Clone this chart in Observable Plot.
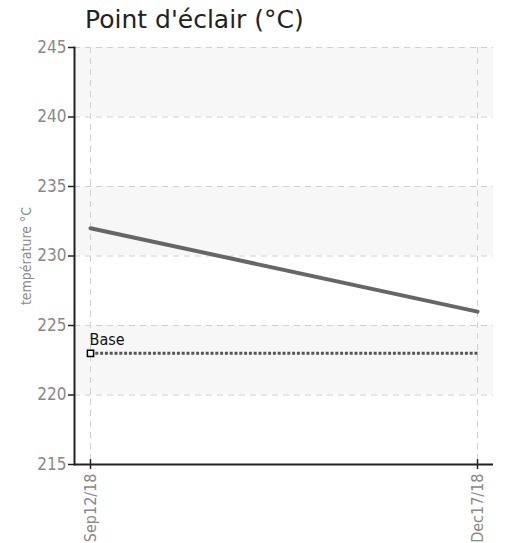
<!DOCTYPE html>
<html><head><meta charset="utf-8">
<script src="https://cdn.jsdelivr.net/npm/d3@7"></script>
<script src="https://cdn.jsdelivr.net/npm/@observablehq/plot@0.6"></script>
<style>
body{margin:0;background:#fff;}
#title{height:36px;font-family:"DejaVu Sans",sans-serif;font-size:25px;color:#222;padding-left:85px;padding-top:5px;line-height:29px;box-sizing:border-box;white-space:nowrap;}
</style></head><body>
<div id="title">Point d'éclair (°C)</div>
<div id="chart"></div>
<script>
const dates = ["2018-09-12", "2018-12-17"];
const values = [232, 226];
const baseValue = 223;
const baseLabel = "Base";
const yTicks = [215, 220, 225, 230, 235, 240, 245];
const bands = [[240, 245], [230, 235], [220, 225]];
const yLabel = "température °C";

const parse = d3.utcParse("%Y-%m-%d");
const series = dates.map((d, i) => ({date: parse(d), value: values[i]}));
const base = dates.map(d => ({date: parse(d), value: baseValue}));
const bandData = bands.map(([a, b]) => ({y1: a, y2: b}));
const fmt = d3.utcFormat("%b%d/%y");
const narrow = "'Liberation Sans Narrow','DejaVu Sans Condensed','Roboto Condensed',sans-serif";

const chart = Plot.plot({
  width: 509, height: 507,
  marginTop: 11, marginBottom: 79, marginLeft: 74, marginRight: 16,
  style: {fontFamily: narrow, background: "#fff"},
  x: {type: "utc", domain: [series[0].date, series[1].date], insetLeft: 16, insetRight: 16},
  y: {domain: [215, 245]},
  marks: [
    Plot.rect(bandData, {y1: "y1", y2: "y2", fill: "#f7f7f7"}),
    Plot.gridY(yTicks.filter(t => t > 215), {stroke: "#d0d0d0", strokeOpacity: 1, strokeDasharray: "6,5", strokeWidth: 1}),
    Plot.gridX(series.map(d => d.date), {stroke: "#d0d0d0", strokeOpacity: 1, strokeDasharray: "6,5", strokeWidth: 1}),
    Plot.axisY(yTicks, {tickSize: 6, tickPadding: 2, fontSize: 17, fill: "#888", stroke: "#222", strokeWidth: 1.5, label: null}),
    Plot.axisX(series.map(d => d.date), {tickSize: 5, tickRotate: -90, tickFormat: fmt, fontSize: 16, fill: "#888", stroke: "#222", strokeWidth: 1.5, label: null, tickPadding: 4}),
    Plot.ruleX(series, {x: "date", y1: 215, y2: 215.35, stroke: "#222", strokeWidth: 1.5}),
    Plot.ruleY([215], {stroke: "#222", strokeWidth: 2}),
    Plot.frame({anchor: "left", stroke: "#222", strokeWidth: 2}),
    Plot.text([yLabel], {frameAnchor: "left", textAnchor: "middle", dx: -48, dy: 0, rotate: -90, fontSize: 14, fill: "#888"}),
    Plot.line(base, {x: "date", y: "value", stroke: "#555", strokeWidth: 3, strokeDasharray: "3,1.8", strokeLinecap: "butt", strokeLinejoin: "miter"}),
    Plot.line(series, {x: "date", y: "value", stroke: "#666", strokeWidth: 4}),
    Plot.dot([base[0]], {x: "date", y: "value", symbol: "square", r: 3.5, fill: "#fff", stroke: "#000", strokeWidth: 1.5}),
    Plot.text([base[0]], {x: "date", y: "value", text: () => baseLabel, dy: -13, dx: -1, textAnchor: "start", fontSize: 16, fill: "#111"})
  ]
});
document.getElementById("chart").appendChild(chart);
</script>
</body></html>
